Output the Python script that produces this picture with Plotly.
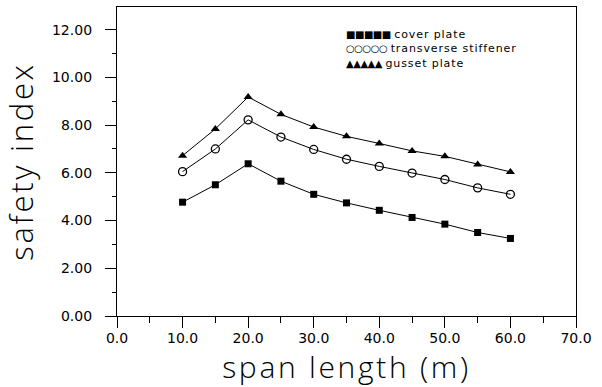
import plotly.graph_objects as go

span = [10, 15, 20, 25, 30, 35, 40, 45, 50, 55, 60]
cover_plate = [4.77, 5.50, 6.38, 5.65, 5.10, 4.74, 4.43, 4.13, 3.85, 3.50, 3.25]
transverse_stiffener = [6.05, 7.00, 8.22, 7.50, 6.98, 6.57, 6.27, 5.99, 5.72, 5.37, 5.10]
gusset_plate = [6.72, 7.84, 9.18, 8.45, 7.92, 7.53, 7.23, 6.92, 6.69, 6.35, 6.04]

x_ticks = [0, 10, 20, 30, 40, 50, 60, 70]
x_labels = ["0.0", "10.0", "20.0", "30.0", "40.0", "50.0", "60.0", "70.0"]
y_ticks = [0, 2, 4, 6, 8, 10, 12]
y_labels = ["0.00", "2.00", "4.00", "6.00", "8.00", "10.00", "12.00"]

legend_symbols = ["■■■■■", "○○○○○", "▲▲▲▲▲"]
legend_names = ["cover plate", "transverse stiffener", "gusset plate"]

fig = go.Figure()
series = [
    (legend_names[0], cover_plate, dict(symbol="square", size=7, color="black")),
    (legend_names[1], transverse_stiffener,
     dict(symbol="circle-open", size=8, color="black", line=dict(width=1.3, color="black"))),
    (legend_names[2], gusset_plate, dict(symbol="triangle-up", size=8, color="black")),
]
for name, vals, mk in series:
    fig.add_trace(go.Scatter(x=span, y=vals, name=name, mode="lines+markers",
                             line=dict(color="black", width=1), marker=mk,
                             showlegend=False))

# legend drawn as one block of text rows (symbol run + label), like the original figure
legend_rows = [
    f"<span style='font-size:10px;letter-spacing:-0.5px'>{sym}</span> "
    f"<span style='letter-spacing:0.9px'>{nm}</span>"
    for sym, nm in zip(legend_symbols, legend_names)
]
fig.add_annotation(xref="paper", yref="paper", x=0.494, y=0.937,
                   xanchor="left", yanchor="top", align="left", showarrow=False,
                   text="<br>".join(legend_rows),
                   font=dict(size=11, family="DejaVu Sans", color="black"))

title_font = dict(family="Open Sans, DejaVu Sans", weight=300, color="black")
fig.update_layout(
    width=602, height=387,
    margin=dict(l=117, r=26, t=7, b=71),
    paper_bgcolor="white", plot_bgcolor="white",
    font=dict(family="DejaVu Sans", color="black"),
    showlegend=False,
)
fig.update_xaxes(
    range=[0, 70], tickvals=x_ticks, ticktext=x_labels,
    ticks="outside", ticklen=11, tickwidth=1.2, tickcolor="black",
    minor=dict(dtick=5, ticks="outside", ticklen=6, tickwidth=1.2, tickcolor="black"),
    showline=True, linecolor="black", linewidth=1.3, mirror=True,
    showgrid=False, zeroline=False, automargin=False,
    tickfont=dict(size=14, family="DejaVu Sans"),
    ticklabelstandoff=-2,
    title=dict(text="span length (m)", font=dict(size=30, **title_font), standoff=7),
)
fig.update_yaxes(
    range=[0, 12.95], tickvals=y_ticks, ticktext=y_labels,
    ticks="outside", ticklen=11, tickwidth=1.2, tickcolor="black",
    minor=dict(dtick=1, ticks="outside", ticklen=4, tickwidth=1.2, tickcolor="black"),
    showline=True, linecolor="black", linewidth=1.3, mirror=True,
    showgrid=False, zeroline=False, automargin=False,
    tickfont=dict(size=14, family="DejaVu Sans"),
    ticklabelstandoff=10,
    title=dict(text="safety index", font=dict(size=31, **title_font), standoff=20),
)

post = (
    "document.body.style.margin='0';document.body.style.overflow='hidden';"
    "document.querySelectorAll('.xtitle,.ytitle').forEach(function(e){e.style.letterSpacing='2.7px';});"
)
fig.write_html("out.html", config={"displayModeBar": False}, post_script=post)
